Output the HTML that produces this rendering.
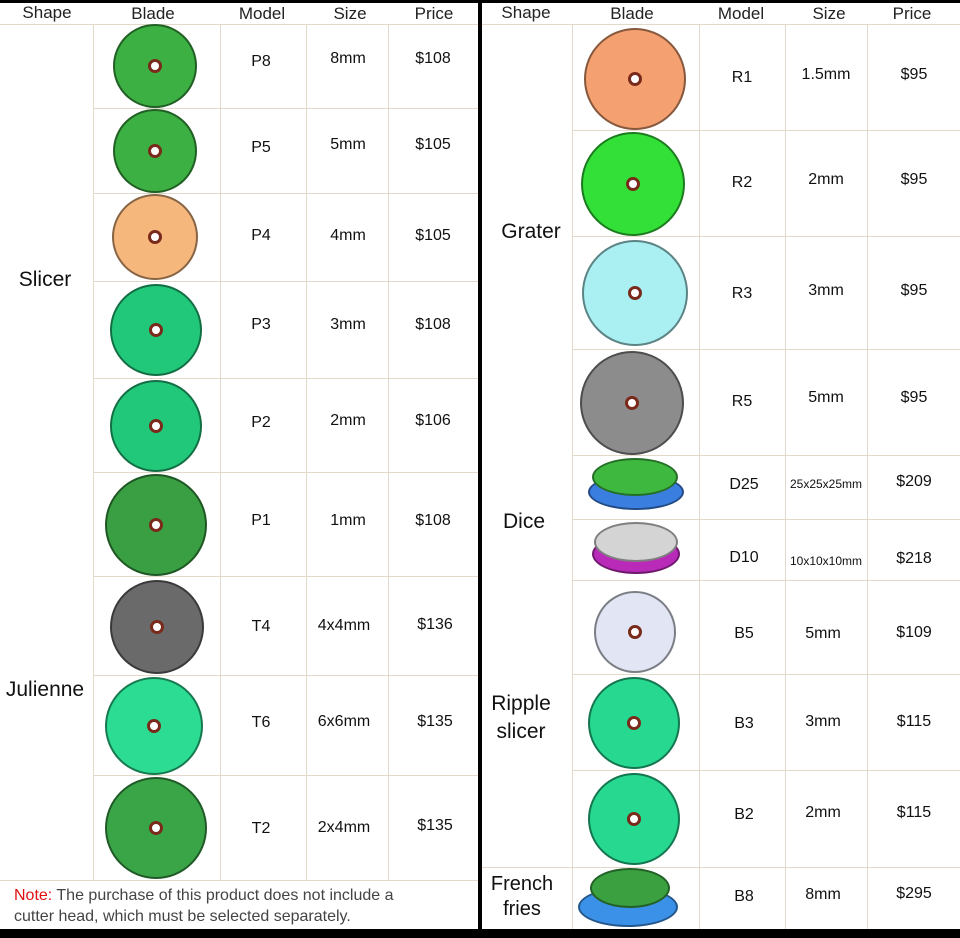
<!DOCTYPE html>
<html><head><meta charset="utf-8"><style>
body{margin:0;width:960px;height:938px;background:#fff;position:relative;overflow:hidden;font-family:"Liberation Sans",sans-serif;color:#111}
.v,.h{position:absolute;background:#e2d9c8}
.v{width:1px}.h{height:1px}
.t{position:absolute;transform:translate(-50%,-50%);white-space:nowrap;font-size:16px}
.hd{font-size:17px;color:#222}
.big{font-size:21px}
.d{position:absolute;border-radius:50%;box-sizing:border-box;border:2px solid rgba(0,0,0,.45)}
.d::after{content:"";position:absolute;left:50%;top:50%;width:14px;height:14px;margin:-7px 0 0 -7px;border-radius:50%;background:#fff;border:3px solid #7a2a1a;box-sizing:border-box}
.e{position:absolute;border-radius:50%;box-sizing:border-box;border:2px solid rgba(0,0,0,.4)}
</style></head><body>
<!-- black borders -->
<div style="position:absolute;left:0;top:0;width:960px;height:3px;background:#000"></div>
<div style="position:absolute;left:0;top:929px;width:960px;height:9px;background:#000"></div>
<div style="position:absolute;left:478px;top:0;width:4px;height:938px;background:#000"></div>

<!-- left grid -->
<div class="h" style="left:0;top:24px;width:478px"></div>
<div class="v" style="left:93px;top:24px;height:856px"></div>
<div class="v" style="left:220px;top:24px;height:856px"></div>
<div class="v" style="left:306px;top:24px;height:856px"></div>
<div class="v" style="left:388px;top:24px;height:856px"></div>
<div class="h" style="left:93px;top:108px;width:385px"></div>
<div class="h" style="left:93px;top:193px;width:385px"></div>
<div class="h" style="left:93px;top:281px;width:385px"></div>
<div class="h" style="left:93px;top:378px;width:385px"></div>
<div class="h" style="left:93px;top:472px;width:385px"></div>
<div class="h" style="left:93px;top:576px;width:385px"></div>
<div class="h" style="left:93px;top:675px;width:385px"></div>
<div class="h" style="left:93px;top:775px;width:385px"></div>
<div class="h" style="left:0;top:880px;width:478px"></div>

<!-- right grid -->
<div class="h" style="left:482px;top:24px;width:478px"></div>
<div class="v" style="left:572px;top:24px;height:905px"></div>
<div class="v" style="left:699px;top:24px;height:905px"></div>
<div class="v" style="left:785px;top:24px;height:905px"></div>
<div class="v" style="left:867px;top:24px;height:905px"></div>
<div class="h" style="left:572px;top:130px;width:388px"></div>
<div class="h" style="left:572px;top:236px;width:388px"></div>
<div class="h" style="left:572px;top:349px;width:388px"></div>
<div class="h" style="left:572px;top:455px;width:388px"></div>
<div class="h" style="left:572px;top:519px;width:388px"></div>
<div class="h" style="left:572px;top:580px;width:388px"></div>
<div class="h" style="left:572px;top:674px;width:388px"></div>
<div class="h" style="left:572px;top:770px;width:388px"></div>
<div class="h" style="left:482px;top:867px;width:478px"></div>

<!-- headers -->
<div class="t hd" style="left:47px;top:13px">Shape</div>
<div class="t hd" style="left:153px;top:14px">Blade</div>
<div class="t hd" style="left:262px;top:14px">Model</div>
<div class="t hd" style="left:350px;top:14px">Size</div>
<div class="t hd" style="left:434px;top:14px">Price</div>
<div class="t hd" style="left:526px;top:13px">Shape</div>
<div class="t hd" style="left:632px;top:14px">Blade</div>
<div class="t hd" style="left:741px;top:14px">Model</div>
<div class="t hd" style="left:829px;top:14px">Size</div>
<div class="t hd" style="left:912px;top:14px">Price</div>

<!-- left shapes -->
<div class="t big" style="left:45px;top:280px">Slicer</div>
<div class="t big" style="left:45px;top:690px">Julienne</div>
<div style="position:absolute;left:14px;top:885px;font-size:16px;line-height:21px;color:#444">
<span style="color:#e01010">Note:</span> The purchase of this product does not include a<br>cutter head, which must be selected separately.</div>

<!-- left discs -->
<div class="d" style="left:113px;top:24px;width:84px;height:84px;background:#3cb043"></div>
<div class="d" style="left:113px;top:109px;width:84px;height:84px;background:#3cb043"></div>
<div class="d" style="left:112px;top:194px;width:86px;height:86px;background:#f6b77d"></div>
<div class="d" style="left:110px;top:284px;width:92px;height:92px;background:#22c87a"></div>
<div class="d" style="left:110px;top:380px;width:92px;height:92px;background:#22c87a"></div>
<div class="d" style="left:105px;top:474px;width:102px;height:102px;background:#3a9f42"></div>
<div class="d" style="left:110px;top:580px;width:94px;height:94px;background:#6a6a6a"></div>
<div class="d" style="left:105px;top:677px;width:98px;height:98px;background:#2bdc92"></div>
<div class="d" style="left:105px;top:777px;width:102px;height:102px;background:#3aa547"></div>

<!-- left text -->
<div class="t" style="left:261px;top:62px">P8</div><div class="t" style="left:348px;top:59px">8mm</div><div class="t" style="left:433px;top:59px">$108</div>
<div class="t" style="left:261px;top:148px">P5</div><div class="t" style="left:348px;top:145px">5mm</div><div class="t" style="left:433px;top:145px">$105</div>
<div class="t" style="left:261px;top:236px">P4</div><div class="t" style="left:348px;top:236px">4mm</div><div class="t" style="left:433px;top:236px">$105</div>
<div class="t" style="left:261px;top:325px">P3</div><div class="t" style="left:348px;top:325px">3mm</div><div class="t" style="left:433px;top:325px">$108</div>
<div class="t" style="left:261px;top:423px">P2</div><div class="t" style="left:348px;top:421px">2mm</div><div class="t" style="left:433px;top:421px">$106</div>
<div class="t" style="left:261px;top:521px">P1</div><div class="t" style="left:348px;top:521px">1mm</div><div class="t" style="left:433px;top:521px">$108</div>
<div class="t" style="left:261px;top:627px">T4</div><div class="t" style="left:344px;top:626px">4x4mm</div><div class="t" style="left:435px;top:625px">$136</div>
<div class="t" style="left:261px;top:723px">T6</div><div class="t" style="left:344px;top:722px">6x6mm</div><div class="t" style="left:435px;top:722px">$135</div>
<div class="t" style="left:261px;top:829px">T2</div><div class="t" style="left:344px;top:828px">2x4mm</div><div class="t" style="left:435px;top:826px">$135</div>

<!-- right shapes -->
<div class="t big" style="left:531px;top:232px">Grater</div>
<div class="t big" style="left:524px;top:522px">Dice</div>
<div class="t big" style="left:521px;top:718px;text-align:center;line-height:28px">Ripple<br>slicer</div>
<div class="t big" style="left:522px;top:897px;text-align:center;line-height:25px;font-size:20px">French<br>fries</div>

<!-- right discs -->
<div class="d" style="left:584px;top:28px;width:102px;height:102px;background:#f4a070"></div>
<div class="d" style="left:581px;top:132px;width:104px;height:104px;background:#33e038"></div>
<div class="d" style="left:582px;top:240px;width:106px;height:106px;background:#aaf0f2"></div>
<div class="d" style="left:580px;top:351px;width:104px;height:104px;background:#8c8c8c"></div>
<div class="e" style="left:588px;top:474px;width:96px;height:36px;background:#3a7ee0"></div>
<div class="e" style="left:592px;top:458px;width:86px;height:38px;background:#3fb840"></div>
<div class="e" style="left:592px;top:534px;width:88px;height:40px;background:#b92ab8"></div>
<div class="e" style="left:594px;top:522px;width:84px;height:40px;background:#d4d4d4"></div>
<div class="d" style="left:594px;top:591px;width:82px;height:82px;background:#e2e6f4"></div>
<div class="d" style="left:588px;top:677px;width:92px;height:92px;background:#26d890"></div>
<div class="d" style="left:588px;top:773px;width:92px;height:92px;background:#26d890"></div>
<div class="e" style="left:578px;top:887px;width:100px;height:40px;background:#3b90e8"></div>
<div class="e" style="left:590px;top:868px;width:80px;height:40px;background:#3aa040"></div>

<!-- right text -->
<div class="t" style="left:742px;top:78px">R1</div><div class="t" style="left:826px;top:75px">1.5mm</div><div class="t" style="left:914px;top:75px">$95</div>
<div class="t" style="left:742px;top:183px">R2</div><div class="t" style="left:826px;top:180px">2mm</div><div class="t" style="left:914px;top:180px">$95</div>
<div class="t" style="left:742px;top:294px">R3</div><div class="t" style="left:826px;top:291px">3mm</div><div class="t" style="left:914px;top:291px">$95</div>
<div class="t" style="left:742px;top:402px">R5</div><div class="t" style="left:826px;top:398px">5mm</div><div class="t" style="left:914px;top:398px">$95</div>
<div class="t" style="left:744px;top:485px">D25</div><div class="t" style="left:826px;top:484px;font-size:12px">25x25x25mm</div><div class="t" style="left:914px;top:482px">$209</div>
<div class="t" style="left:744px;top:558px">D10</div><div class="t" style="left:826px;top:561px;font-size:12px">10x10x10mm</div><div class="t" style="left:914px;top:559px">$218</div>
<div class="t" style="left:744px;top:634px">B5</div><div class="t" style="left:823px;top:634px">5mm</div><div class="t" style="left:914px;top:633px">$109</div>
<div class="t" style="left:744px;top:724px">B3</div><div class="t" style="left:823px;top:722px">3mm</div><div class="t" style="left:914px;top:722px">$115</div>
<div class="t" style="left:744px;top:815px">B2</div><div class="t" style="left:823px;top:813px">2mm</div><div class="t" style="left:914px;top:813px">$115</div>
<div class="t" style="left:744px;top:897px">B8</div><div class="t" style="left:823px;top:895px">8mm</div><div class="t" style="left:914px;top:894px">$295</div>
</body></html>
